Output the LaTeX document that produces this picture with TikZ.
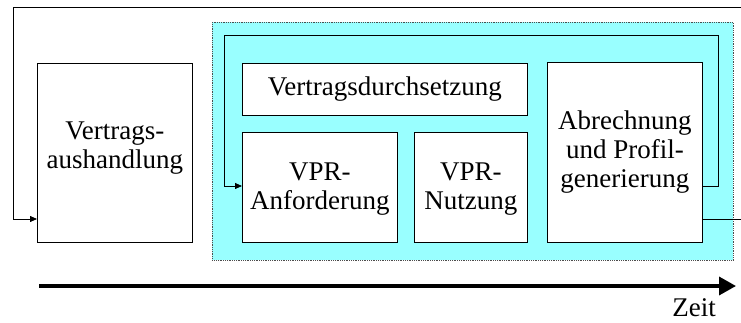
\documentclass[tikz,border=0pt]{standalone}
\usepackage{fontspec}
\setmainfont{Liberation Serif}
\usetikzlibrary{arrows.meta}
\definecolor{phase}{RGB}{153,255,255}
\tikzset{
  stage/.style={draw=black, fill=white, line width=0.8pt, align=center,
    font=\fontsize{27}{29}\selectfont, inner sep=0pt},
  flow/.style={draw=black, line width=0.8pt},
  flowarrow/.style={flow, -{Triangle[length=7pt,width=6pt]}},
}
\begin{document}
\begin{tikzpicture}[x=1pt,y=-1pt]
\useasboundingbox (0,0) rectangle (741,323);
\clip (0,0) rectangle (741,323);
% shaded execution phase
\node[draw=black!70, densely dotted, fill=phase, line width=0.8pt, minimum width=521pt, minimum height=238pt, anchor=north west, inner sep=0pt] (phase) at (212,22) {};
% stages
\node[stage, minimum width=155pt, minimum height=179pt, anchor=north west] (neg) at (37,63) {};
\node[stage, draw=none, fill=none] (negtxt) at ([yshift=5pt]neg.center) {Vertrags-\\aushandlung};
\node[stage, minimum width=285pt, minimum height=52pt, anchor=north west] (enf) at (242,63) {Vertragsdurchsetzung};
\node[stage, minimum width=155pt, minimum height=110pt, anchor=north west] (req) at (242,132) {};
\node[stage, draw=none, fill=none] (reqtxt) at ([yshift=-2pt]req.center) {VPR-\\Anforderung};
\node[stage, minimum width=113pt, minimum height=110pt, anchor=north west] (use) at (414,132) {};
\node[stage, draw=none, fill=none] (usetxt) at ([yshift=-2pt]use.center) {VPR-\\Nutzung};
\node[stage, minimum width=155pt, minimum height=180pt, anchor=north west] (bill) at (547,62) {Abrechnung\\und Profil-\\generierung};
% inner loop
\coordinate (ia) at (bill.east |- 0,186);
\draw[flowarrow] (ia) -- (718,186) -- (718,35) -- (224,35) -- (224,186) -- (req.west |- 0,186);
% outer loop
\coordinate (oa) at (bill.east |- 0,219);
\draw[flowarrow] (oa) -- (742,219) -- (742,7) -- (13,7) -- (13,219) -- (neg.west |- 0,219);
% time axis
\coordinate (t0) at (39,286);
\coordinate (t1) at (736,286);
\draw[line width=3.5pt, -{Triangle[length=17pt,width=18pt]}] (t0) -- (t1);
\node[font=\fontsize{27}{29}\selectfont, anchor=base, inner sep=0pt] (zeit) at (694,316) {Zeit};
\end{tikzpicture}
\end{document}
